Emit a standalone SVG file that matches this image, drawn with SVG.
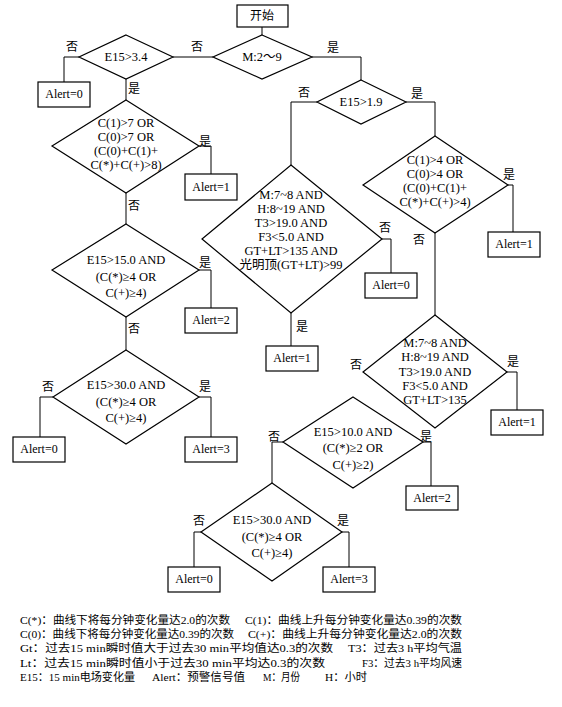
<svg xmlns="http://www.w3.org/2000/svg" width="562" height="707" viewBox="0 0 562 707">
<style>
text{font-family:"Liberation Serif","Noto Sans CJK SC",serif;fill:#000}
.n{font-size:12.5px;text-anchor:middle}
.a{font-size:12px;text-anchor:middle}
.l{font-size:12px;text-anchor:middle;font-family:"Noto Sans CJK SC",sans-serif}
.g{font-size:11px}
.shape{fill:#fff;stroke:#000;stroke-width:1.2}
.c{fill:none;stroke:#000;stroke-width:1}
</style>
<rect width="562" height="707" fill="#fff"/>
<g id="connectors">
<polyline class="c" points="262,27 262,35"/>
<polyline class="c" points="213,57 173,57"/>
<polyline class="c" points="79,57 64,57 64,82"/>
<polyline class="c" points="126,79 126,100"/>
<polyline class="c" points="312,57 361,57 361,80"/>
<polyline class="c" points="406,102 435,102 435,136"/>
<polyline class="c" points="317,102 291,102 291,165"/>
<polyline class="c" points="199,146 211,146 211,174"/>
<polyline class="c" points="126,193 126,224"/>
<polyline class="c" points="199,270 211,270 211,308"/>
<polyline class="c" points="126,317 126,350"/>
<polyline class="c" points="53,397 40,397 40,437"/>
<polyline class="c" points="199,397 211,397 211,437"/>
<polyline class="c" points="382,239 391,239 391,273"/>
<polyline class="c" points="291,313 291,346"/>
<polyline class="c" points="508,185 513,185 513,232"/>
<polyline class="c" points="435,233 435,315"/>
<polyline class="c" points="507,372 517,372 517,410"/>
<polyline class="c" points="423,442 431,442 431,486"/>
<polyline class="c" points="283,442 272,442 272,483"/>
<polyline class="c" points="201,532 194,532 194,567"/>
<polyline class="c" points="342,532 349,532 349,567"/>
<text class="l" x="197" y="51">否</text>
<text class="l" x="72" y="51">否</text>
<text class="l" x="134" y="93">是</text>
<text class="l" x="333" y="52">是</text>
<text class="l" x="304" y="97">否</text>
<text class="l" x="417" y="98">是</text>
<text class="l" x="205" y="146">是</text>
<text class="l" x="134" y="210">否</text>
<text class="l" x="205" y="267">是</text>
<text class="l" x="134" y="333">否</text>
<text class="l" x="48" y="391">否</text>
<text class="l" x="205" y="391">是</text>
<text class="l" x="385" y="232">否</text>
<text class="l" x="302" y="331">是</text>
<text class="l" x="509" y="179">是</text>
<text class="l" x="419" y="244">否</text>
<text class="l" x="356" y="369">否</text>
<text class="l" x="513" y="366">是</text>
<text class="l" x="426" y="441">是</text>
<text class="l" x="274" y="441">否</text>
<text class="l" x="199" y="525">否</text>
<text class="l" x="343" y="525">是</text>
</g>
<g id="start"><rect class="shape" x="237" y="5" width="51" height="22"/><text class="l" x="262" y="20">开始</text></g>
<g id="d-m29"><polygon class="shape" points="262,35 312,57 262,79 213,57"/><text class="n" x="262" y="61">M:2～9</text></g>
<g id="d-e34"><polygon class="shape" points="126,35 173,57 126,79 79,57"/><text class="n" x="126" y="61">E15&gt;3.4</text></g>
<g id="d-e19"><polygon class="shape" points="361,80 406,102 361,124 317,102"/><text class="n" x="361" y="106">E15&gt;1.9</text></g>
<g id="d-c7"><polygon class="shape" points="126,100 199,146 126,193 52,146"/>
<text class="n" x="126" y="127">C(1)&gt;7 OR</text><text class="n" x="126" y="141">C(0)&gt;7 OR</text><text class="n" x="126" y="155">(C(0)+C(1)+</text><text class="n" x="126" y="169">C(*)+C(+)&gt;8)</text></g>
<g id="d-e150"><polygon class="shape" points="126,224 199,270 126,317 52,270"/>
<text class="n" x="126" y="264">E15&gt;15.0 AND</text><text class="n" x="126" y="281">(C(*)≥4 OR</text><text class="n" x="126" y="297">C(+)≥4)</text></g>
<g id="d-e300a"><polygon class="shape" points="126,350 199,397 126,444 53,397"/>
<text class="n" x="126" y="389">E15&gt;30.0 AND</text><text class="n" x="126" y="406">(C(*)≥4 OR</text><text class="n" x="126" y="422">C(+)≥4)</text></g>
<g id="d-big"><polygon class="shape" points="291,165 382,239 291,313 202,239"/>
<text class="n" x="291" y="199">M:7~8 AND</text><text class="n" x="291" y="213">H:8~19 AND</text><text class="n" x="291" y="227">T3&gt;19.0 AND</text><text class="n" x="291" y="241">F3&lt;5.0 AND</text><text class="n" x="291" y="255">GT+LT&gt;135 AND</text><text class="n" x="291" y="269">光明顶(GT+LT)&gt;99</text></g>
<g id="d-c4"><polygon class="shape" points="435,136 508,185 435,233 363,185"/>
<text class="n" x="435" y="164">C(1)&gt;4 OR</text><text class="n" x="435" y="178">C(0)&gt;4 OR</text><text class="n" x="435" y="192">(C(0)+C(1)+</text><text class="n" x="435" y="206">C(*)+C(+)&gt;4)</text></g>
<g id="d-m78"><polygon class="shape" points="435,315 507,372 435,428 363,372"/>
<text class="n" x="435" y="347">M:7~8 AND</text><text class="n" x="435" y="361">H:8~19 AND</text><text class="n" x="435" y="376">T3&gt;19.0 AND</text><text class="n" x="435" y="390">F3&lt;5.0 AND</text><text class="n" x="435" y="404">GT+LT&gt;135</text></g>
<g id="d-e100"><polygon class="shape" points="353,397 423,442 353,488 283,442"/>
<text class="n" x="353" y="436">E15&gt;10.0 AND</text><text class="n" x="353" y="452">(C(*)≥2 OR</text><text class="n" x="353" y="469">C(+)≥2)</text></g>
<g id="d-e300b"><polygon class="shape" points="272,483 342,532 272,581 201,532"/>
<text class="n" x="272" y="524">E15&gt;30.0 AND</text><text class="n" x="272" y="541">(C(*)≥4 OR</text><text class="n" x="272" y="557">C(+)≥4)</text></g>
<g id="a1"><rect class="shape" x="38" y="82" width="52" height="25"/><text class="a" x="64" y="98">Alert=0</text></g>
<g id="a2"><rect class="shape" x="185" y="174" width="52" height="26"/><text class="a" x="211" y="191">Alert=1</text></g>
<g id="a3"><rect class="shape" x="185" y="308" width="52" height="25"/><text class="a" x="211" y="324">Alert=2</text></g>
<g id="a4"><rect class="shape" x="13" y="437" width="52" height="25"/><text class="a" x="39" y="453">Alert=0</text></g>
<g id="a5"><rect class="shape" x="185" y="437" width="52" height="25"/><text class="a" x="211" y="453">Alert=3</text></g>
<g id="a6"><rect class="shape" x="365" y="273" width="52" height="25"/><text class="a" x="391" y="289">Alert=0</text></g>
<g id="a7"><rect class="shape" x="266" y="346" width="52" height="25"/><text class="a" x="292" y="362">Alert=1</text></g>
<g id="a8"><rect class="shape" x="488" y="232" width="52" height="25"/><text class="a" x="514" y="248">Alert=1</text></g>
<g id="a9"><rect class="shape" x="491" y="410" width="52" height="25"/><text class="a" x="517" y="426">Alert=1</text></g>
<g id="a10"><rect class="shape" x="406" y="486" width="52" height="24"/><text class="a" x="432" y="502">Alert=2</text></g>
<g id="a11"><rect class="shape" x="168" y="567" width="52" height="25"/><text class="a" x="194" y="583">Alert=0</text></g>
<g id="a12"><rect class="shape" x="323" y="567" width="52" height="25"/><text class="a" x="349" y="583">Alert=3</text></g>
<g id="legend">
<text class="g" x="20" y="624" textLength="210" lengthAdjust="spacingAndGlyphs">C(*)：曲线下将每分钟变化量达2.0的次数</text>
<text class="g" x="245" y="624" textLength="217" lengthAdjust="spacingAndGlyphs">C(1)：曲线上升每分钟变化量达0.39的次数</text>
<text class="g" x="20" y="638" textLength="214" lengthAdjust="spacingAndGlyphs">C(0)：曲线下将每分钟变化量达0.39的次数</text>
<text class="g" x="248" y="638" textLength="214" lengthAdjust="spacingAndGlyphs">C(+)：曲线上升每分钟变化量达2.0的次数</text>
<text class="g" x="20" y="652" textLength="313" lengthAdjust="spacingAndGlyphs">Gt：过去15 min瞬时值大于过去30 min平均值达0.3的次数</text>
<text class="g" x="348" y="652" textLength="114" lengthAdjust="spacingAndGlyphs">T3：过去3 h平均气温</text>
<text class="g" x="20" y="667" textLength="305" lengthAdjust="spacingAndGlyphs">Lt：过去15 min瞬时值小于过去30 min平均达0.3的次数</text>
<text class="g" x="362" y="667" textLength="100" lengthAdjust="spacingAndGlyphs">F3：过去3 h平均风速</text>
<text class="g" x="20" y="681" textLength="115" lengthAdjust="spacingAndGlyphs">E15：15 min电场变化量</text>
<text class="g" x="152" y="681" textLength="93" lengthAdjust="spacingAndGlyphs">Alert：预警信号值</text>
<text class="g" x="263" y="681" textLength="37" lengthAdjust="spacingAndGlyphs">M：月份</text>
<text class="g" x="325" y="681" textLength="42" lengthAdjust="spacingAndGlyphs">H：小时</text>
</g>
</svg>
